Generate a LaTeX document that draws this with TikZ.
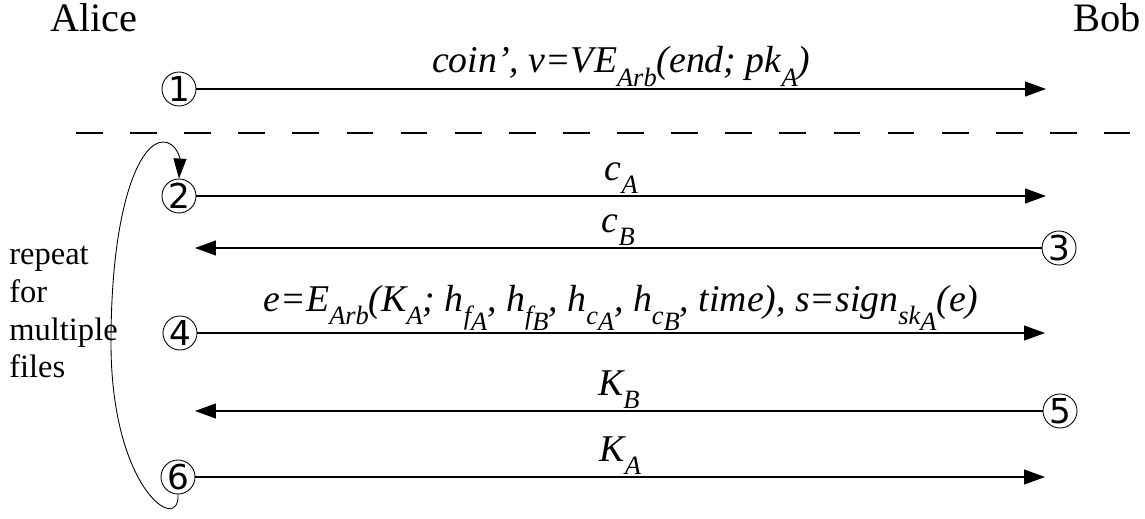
\documentclass[tikz,border=0pt]{standalone}
\usepackage{fontspec}
\setmainfont{Liberation Serif}
\newfontfamily\digitfont{DejaVu Sans}
\usetikzlibrary{positioning,arrows.meta}
\newcommand{\lo}[1]{\raisebox{-0.36em}{\scalebox{0.7}{#1}}}
\newcommand{\sublo}[1]{\raisebox{-0.22em}{#1}}

\begin{document}
\begin{tikzpicture}[
  x=0.02cm, y=-0.02cm,
  num/.style={draw, circle, line width=0.5pt, minimum size=0.68cm, inner sep=0pt, font=\digitfont\fontsize{19.5}{19.5}\selectfont},
  msg/.style={-{Triangle[length=0.42cm, width=0.3cm]}, line width=0.6pt},
  lbl/.style={above, inner sep=1pt, font=\itshape\fontsize{21.5}{25}\selectfont},
  party/.style={inner sep=0pt, font=\fontsize{23}{27}\selectfont}
]
  \useasboundingbox (0,0) rectangle (1145,519);
  \node[party, anchor=base west] (alice) at (50,32) {Alice};
  \node[party, anchor=base east] (bob) at (1141,32) {Bob};
  % steps
  \node[num] (n1) at (179,89) {1};
  \node[num] (n2) at (179,196) {2};
  \node[num] (n3) at (1059,248) {3};
  \node[num] (n4) at (180,333) {4};
  \node[num] (n5) at (1060,411) {5};
  \node[num] (n6) at (178,477) {6};
  \coordinate (e1) at (1046,89);
  \coordinate (e2) at (1046,196);
  \coordinate (e3) at (195,248);
  \coordinate (e4) at (1045,333);
  \coordinate (e5) at (195,411);
  \coordinate (e6) at (1045,477);
  \draw[msg] (n1) -- node[lbl, midway] {coin', v=VE\lo{Arb}(end; pk\lo{A})} (e1);
  \draw[dash pattern=on 15.2pt off 15.6pt, line width=0.6pt] (76,133) -- (1130,133);
  \draw[msg] (n2) -- node[lbl, midway] {c\lo{A}} (e2);
  \draw[msg] (n3) -- node[lbl, midway] {c\lo{B}} (e3);
  \draw[msg] (n4) -- node[lbl, midway] {e=E\lo{Arb}(K\lo{A}; h\lo{f\sublo{A}}, h\lo{f\sublo{B}}, h\lo{c\sublo{A}}, h\lo{c\sublo{B}}, time), s=sign\lo{sk\sublo{A}}(e)} (e4);
  \draw[msg] (n5) -- node[lbl, midway] {K\lo{B}} (e5);
  \draw[msg] (n6) -- node[lbl, midway] {K\lo{A}} (e6);
  % loop back
  \draw[-{Triangle[length=0.4cm, width=0.26cm]}, line width=0.5pt] (n6.south)
    .. controls (180,535) and (111,490) .. (111,343)
    .. controls (111,205) and (140,142) .. (163,142)
    .. controls (176,142) and (180,158) .. (n2.north);
  \node[anchor=base west, align=left, inner sep=0pt, font=\fontsize{18.5}{21.5}\selectfont] (rep) at (9,378) {repeat\\for\\multiple\\files};
\end{tikzpicture}
\end{document}
